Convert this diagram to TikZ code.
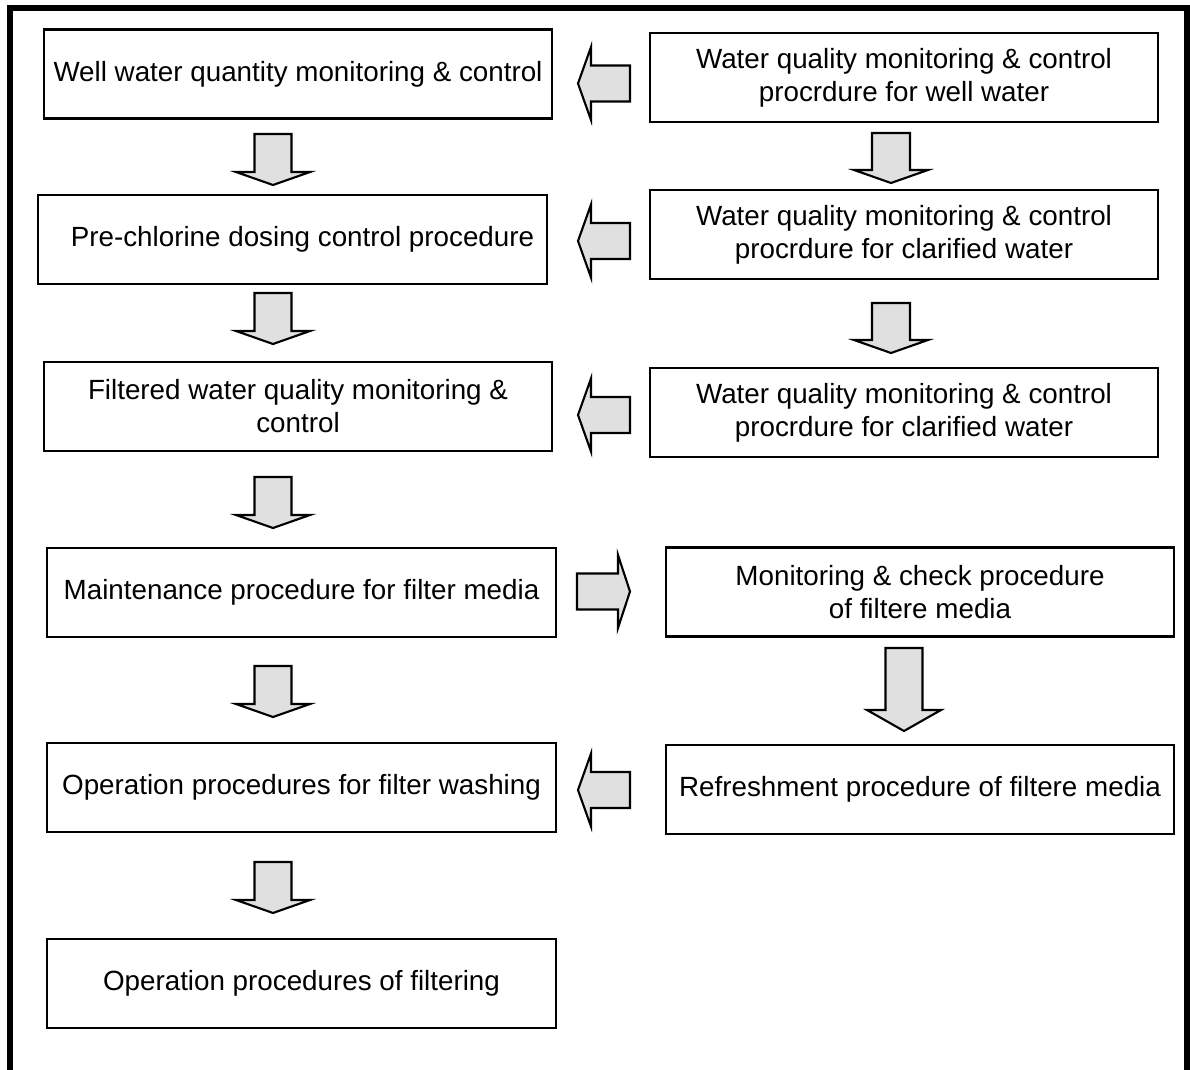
\documentclass[tikz,border=0pt]{standalone}
\usepackage{fontspec}
\setmainfont{Liberation Sans}
\definecolor{arrowfill}{HTML}{E0E0E0}
\begin{document}
\begin{tikzpicture}[x=0.01cm,y=-0.01cm,
  procbox/.style={draw=black,line width=0.6pt,rectangle,inner sep=0pt,
    minimum width=5.08cm,minimum height=0.89cm,align=center,
    font=\fontsize{7.9pt}{9.4pt}\selectfont},
  arrowstyle/.style={draw=black,line width=0.6pt,fill=arrowfill,line join=miter},
  pics/blockarrow/.style n args={4}{code={
    \draw[arrowstyle] ({-#1/2},{-#2/2}) -- ({#1/2-#4},{-#2/2}) -- ({#1/2-#4},{-#3/2})
      -- ({#1/2},0) -- ({#1/2-#4},{#3/2}) -- ({#1/2-#4},{#2/2}) -- ({-#1/2},{#2/2}) -- cycle;
  }}]
\useasboundingbox (0,0) rectangle (1190,1070);
\clip (0,0) rectangle (1190,1070);

% outer frame, open at the bottom
\draw[line width=0.06cm] (10,1090) -- (10,8) -- (1187,8) -- (1187,1090);

% left column
\node[procbox] (wellqty) at (298,74) {Well water quantity monitoring \& control};
\node[procbox] (prechl) at (292.5,239.5) {\hspace*{0.2cm}Pre-chlorine dosing control procedure};
\node[procbox] (filtq) at (298,406.5) {Filtered water quality monitoring \&\\ control};
\node[procbox] (maint) at (301.5,592.5) {Maintenance procedure for filter media};
\node[procbox] (wash) at (301.5,787.5) {Operation procedures for filter washing};
\node[procbox] (filtering) at (301.5,983.5) {Operation procedures of filtering};

% right column
\node[procbox] (wqwell) at (904,77.5) {Water quality monitoring \& control\\ procrdure for well water};
\node[procbox] (wqclar1) at (904,234.5) {Water quality monitoring \& control\\ procrdure for clarified water};
\node[procbox] (wqclar2) at (904,412.5) {Water quality monitoring \& control\\ procrdure for clarified water};
\node[procbox] (check) at (920,592) {Monitoring \& check procedure\\ of filtere media};
\node[procbox] (refresh) at (920,789.5) {Refreshment procedure of filtere media};

% block arrows down the left column
\pic[rotate=-90] at (273,159.5) {blockarrow={51}{37}{74}{13}};
\pic[rotate=-90] at (273,318.5) {blockarrow={51}{37}{74}{13}};
\pic[rotate=-90] at (273,502.5) {blockarrow={51}{37}{74}{13}};
\pic[rotate=-90] at (273,691.5) {blockarrow={51}{37}{74}{13}};
\pic[rotate=-90] at (273,887.5) {blockarrow={51}{37}{74}{13}};

% block arrows down the right column
\pic[rotate=-90] at (891,158) {blockarrow={50}{38}{74}{13}};
\pic[rotate=-90] at (891,328) {blockarrow={50}{38}{74}{13}};
\pic[rotate=-90] at (904,689.5) {blockarrow={83}{37}{74}{21}};

% block arrows between the columns
\pic[rotate=180] at (604,83.5) {blockarrow={52}{36}{73}{13}};
\pic[rotate=180] at (604,241) {blockarrow={52}{36}{73}{13}};
\pic[rotate=180] at (604,415) {blockarrow={52}{36}{73}{13}};
\pic at (603.5,591.5) {blockarrow={53}{36}{73}{12}};
\pic[rotate=180] at (604,790) {blockarrow={52}{36}{73}{13}};
\end{tikzpicture}
\end{document}
